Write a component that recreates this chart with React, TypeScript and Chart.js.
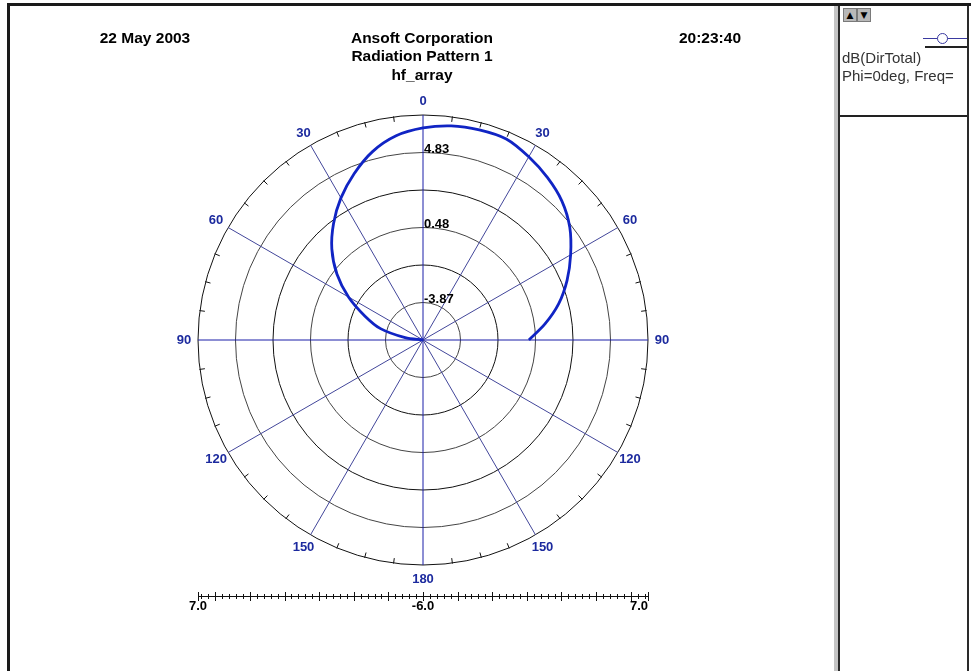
import React, { useEffect, useRef } from 'react';
import { Chart, registerables } from 'chart.js';

Chart.register(...registerables);

// Angular categories (degrees clockwise from top), 7.5 degree grid
const angleCategories = [
  0, 7.5, 15, 22.5, 30, 37.5, 45, 52.5, 60, 67.5, 75, 82.5,
  90, 97.5, 105, 112.5, 120, 127.5, 135, 142.5, 150, 157.5, 165, 172.5,
  180, 187.5, 195, 202.5, 210, 217.5, 225, 232.5, 240, 247.5, 255, 262.5,
  270, 277.5, 285, 292.5, 300, 307.5, 315, 322.5, 330, 337.5, 345, 352.5,
];

// Measured pattern: theta (deg) and dB(DirTotal)
const thetaDeg = [
  -90, -82.5, -75, -67.5, -60, -52.5, -45, -37.5, -30, -22.5, -15, -7.5,
  0, 7.5, 15, 22.5, 30, 37.5, 45, 52.5, 60, 67.5, 75, 82.5, 90,
];
const dirTotalDb = [
  -6.0, -4.96, -3.46, -2.36, -1.03, 0.27, 1.45, 2.49, 3.48, 4.4, 5.27, 5.9,
  6.25, 6.48, 6.57, 6.57, 6.22, 5.82, 5.35, 4.69, 3.85, 3.01, 2.12, 1.11, 0.12,
];

const spokeAngles = [0, 30, 60, 90, 120, 150, 180, 210, 240, 270, 300, 330];
const spokeLabels = ['0', '30', '60', '90', '120', '150', '180', '150', '120', '90', '60', '30'];
const radialMin = -6;
const radialMax = 7;
const ringLabels = ['', '-3.87', '', '0.48', '', '4.83', ''];
const barLabels = ['7.0', '-6.0', '7.0'];
const barMajorStep = 2;
const barMinorStep = 0.4;

const FONT = '"Liberation Sans", Arial, Helvetica, sans-serif';

const seriesData = angleCategories.map((a) => {
  const th = a <= 180 ? a : a - 360;
  const k = thetaDeg.indexOf(th);
  return k >= 0 ? dirTotalDb[k] : null;
});

const polarDecor = {
  id: 'polarDecor',
  afterDraw(chart: any) {
    const s = chart.scales.r;
    const ctx = chart.ctx;
    const R = s.drawingArea;
    const cx = s.xCenter;
    const cy = s.yCenter;
    ctx.save();
    // outer circle minor ticks
    ctx.strokeStyle = '#111';
    ctx.lineWidth = 1;
    angleCategories.forEach((a, i) => {
      if (spokeAngles.includes(a)) return;
      const p1 = s.getPointPosition(i, R + 0.5);
      const p2 = s.getPointPosition(i, R - 5);
      ctx.beginPath();
      ctx.moveTo(p1.x, p1.y);
      ctx.lineTo(p2.x, p2.y);
      ctx.stroke();
    });
    // angular labels
    ctx.font = 'bold 13px ' + FONT;
    ctx.fillStyle = '#1c2a9e';
    ctx.textAlign = 'center';
    ctx.textBaseline = 'middle';
    spokeAngles.forEach((a, k) => {
      const i = angleCategories.indexOf(a);
      const p = s.getPointPosition(i, R + 14);
      ctx.fillText(spokeLabels[k], p.x, p.y);
    });
    // ring labels
    ctx.fillStyle = '#000';
    ctx.textAlign = 'left';
    ctx.textBaseline = 'alphabetic';
    s.ticks.forEach((t: any, i: number) => {
      const lab = ringLabels[i];
      if (!lab) return;
      const d = s.getDistanceFromCenterForValue(t.value);
      ctx.fillText(lab, cx + 1, cy - d);
    });
    // bottom magnitude bar
    const yb = Math.round(cy + R + 31) + 0.5;
    ctx.strokeStyle = '#111';
    ctx.beginPath();
    ctx.moveTo(cx - R, yb);
    ctx.lineTo(cx + R, yb);
    ctx.stroke();
    const nMinor = Math.round((radialMax - radialMin) / barMinorStep);
    const perMajor = Math.round(barMajorStep / barMinorStep);
    for (let k = 0; k <= nMinor; k++) {
      const v = radialMin + k * barMinorStep;
      const d = s.getDistanceFromCenterForValue(Math.min(v, radialMax));
      const major = k % perMajor === 0;
      const h = major ? 4.5 : 2.5;
      [cx - d, cx + d].forEach((x) => {
        const xx = Math.round(x) + 0.5;
        ctx.beginPath();
        ctx.moveTo(xx, yb - h);
        ctx.lineTo(xx, yb + h);
        ctx.stroke();
      });
    }
    [cx - R, cx + R].forEach((x) => {
      const xx = Math.round(x) + 0.5;
      ctx.beginPath();
      ctx.moveTo(xx, yb - 4.5);
      ctx.lineTo(xx, yb + 4.5);
      ctx.stroke();
    });
    ctx.fillStyle = '#000';
    ctx.textBaseline = 'middle';
    ctx.textAlign = 'center';
    ctx.fillText(barLabels[0], cx - R, yb + 10);
    ctx.fillText(barLabels[1], cx, yb + 10);
    ctx.textAlign = 'right';
    ctx.fillText(barLabels[2], cx + R, yb + 10);
    ctx.restore();
  },
};

function PolarChart() {
  const ref = useRef<HTMLCanvasElement | null>(null);
  useEffect(() => {
    if (!ref.current) return;
    const chart = new Chart(ref.current, {
      type: 'radar',
      data: {
        labels: angleCategories.map((a) => String(a)),
        datasets: [
          {
            label: 'dB(DirTotal)',
            data: seriesData as any,
            borderColor: '#1024c4',
            backgroundColor: 'rgba(0,0,0,0)',
            borderWidth: 2.8,
            pointRadius: 0,
            pointHoverRadius: 0,
            fill: false,
            tension: 0.3,
            spanGaps: false,
          },
        ],
      },
      options: {
        responsive: false,
        animation: false,
        layout: { padding: { left: 188, top: 109, right: 186, bottom: 106 } },
        plugins: { legend: { display: false }, tooltip: { enabled: false }, title: { display: false } },
        scales: {
          r: {
            min: radialMin,
            max: radialMax,
            startAngle: 0,
            ticks: { display: false, count: 7 },
            pointLabels: { display: false },
            grid: {
              circular: true,
              lineWidth: 1,
              color: (c: any) => (c.index % 2 === 0 ? '#111' : '#444'),
            },
            angleLines: {
              display: true,
              lineWidth: (c: any) => (c.index % 4 === 0 ? 1 : 0),
              color: (c: any) => (c.index % 12 === 0 ? '#1a1ea8' : '#42469a'),
            },
          },
        },
      } as any,
      plugins: [polarDecor],
    });
    return () => chart.destroy();
  }, []);
  return (
    <canvas
      ref={ref}
      width={824}
      height={665}
      style={{ position: 'absolute', left: 10, top: 6, width: 824, height: 665 }}
    />
  );
}

const abs = (l: number, t: number, w: number, h: number, bg: string): React.CSSProperties => ({
  position: 'absolute', left: l, top: t, width: w, height: h, background: bg,
});

function TitleText({ x, y, text }: { x: number; y: number; text: string }) {
  return (
    <div
      style={{
        position: 'absolute', left: x - 150, top: y - 9, width: 300, height: 18, lineHeight: '18px',
        textAlign: 'center', fontFamily: FONT, fontWeight: 'bold', fontSize: 15.5, color: '#000',
        whiteSpace: 'nowrap',
      }}
    >
      {text}
    </div>
  );
}

const btn: React.CSSProperties = {
  fontSize: 9, lineHeight: '12px', textAlign: 'center', color: '#000', fontFamily: 'DejaVu Sans',
  border: '1px solid #7a7a7a',
};

export default function App() {
  return (
    <div style={{ position: 'absolute', left: 0, top: 0, width: 971, height: 671, background: '#fff', overflow: 'hidden' }}>
      <div style={abs(7, 3, 964, 3, '#1a1a1a')} />
      <div style={abs(7, 3, 3, 668, '#1a1a1a')} />
      <div style={abs(834, 6, 4, 665, '#c4c4c4')} />
      <div style={abs(838, 6, 2, 665, '#2a2a2a')} />
      <div style={abs(967, 6, 2, 665, '#2a2a2a')} />
      <div style={abs(840, 115, 127, 2, '#222')} />
      <PolarChart />
      <TitleText x={145} y={38} text="22 May 2003" />
      <TitleText x={422} y={38} text="Ansoft Corporation" />
      <TitleText x={422} y={56} text="Radiation Pattern 1" />
      <TitleText x={422} y={75} text="hf_array" />
      <TitleText x={710} y={38} text="20:23:40" />
      {/* legend panel */}
      <div style={{ ...abs(843, 8, 12, 12, '#b8b8b8'), ...btn }}>▲</div>
      <div style={{ ...abs(857, 8, 12, 12, '#b8b8b8'), ...btn }}>▼</div>
      <div style={abs(923, 38, 44, 1, '#3a3aa0')} />
      <div style={{ ...abs(937, 33, 9, 9, '#fff'), border: '1px solid #3a3aa0', borderRadius: '50%' }} />
      <div style={abs(925, 46, 42, 2, '#222')} />
      <div style={{ position: 'absolute', left: 842, top: 49, width: 125, height: 40, overflow: 'hidden', fontFamily: FONT, fontSize: 15, lineHeight: '18px', color: '#333', whiteSpace: 'nowrap' }}>
        <div>dB(DirTotal)</div>
        <div>Phi=0deg, Freq=</div>
      </div>
    </div>
  );
}
